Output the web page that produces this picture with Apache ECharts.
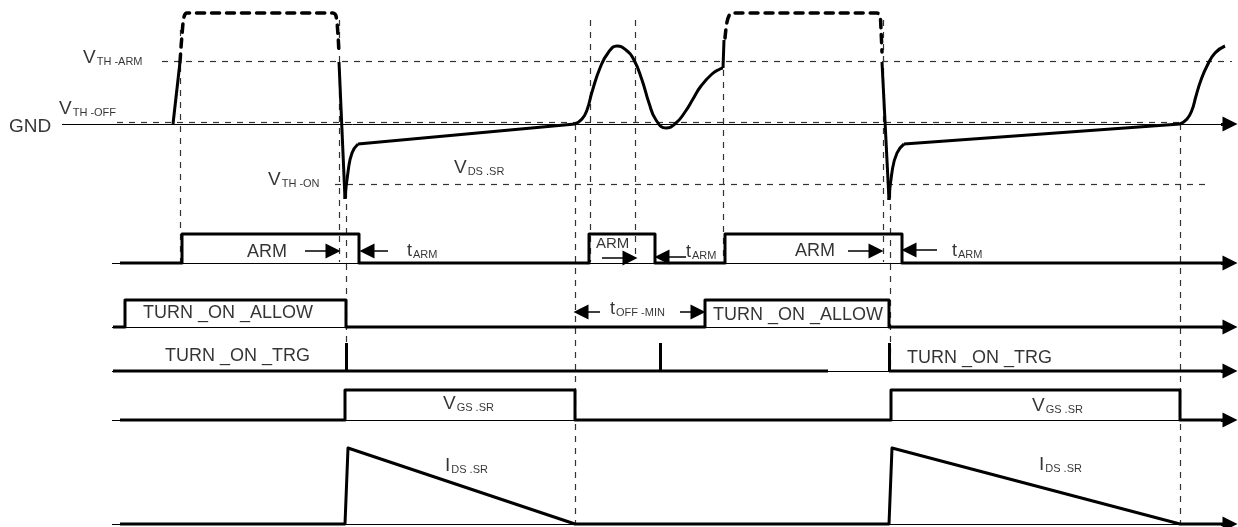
<!DOCTYPE html>
<html>
<head>
<meta charset="utf-8">
<script src="https://cdn.jsdelivr.net/npm/echarts@6/dist/echarts.min.js"></script>
<style>
  html, body { margin: 0; padding: 0; background: #fff; }
  #chart { width: 1238px; height: 527px; }
</style>
</head>
<body>
<div id="chart"></div>
<script>
// V_DS.SR waveform pieces (x, y in picture units)
const vdsRise1 = [[173, 124], [180, 62]];
const vdsDash1 = [[180, 62], [182, 35], [184, 17], [187, 13], [333, 13], [336, 16], [338, 35], [339, 55]];
const vdsFall1 = [[339, 62], [345, 199]];
const vdsRecover1 = [[345, 199], [348, 172], [352, 153], [358, 144]];
const vdsRamp1 = [[358, 144], [575, 124]];
const vdsRing = [[575, 124], [582, 119], [587, 110], [592, 92], [600, 68], [608, 53], [617, 46], [626, 50],
  [634, 60], [642, 80], [649, 103], [656, 120], [666, 128], [676, 123], [685, 112], [693, 99], [701, 86],
  [712, 74], [720, 69], [723, 68]];
const vdsStep = [[723, 68], [724, 40]];
const vdsDash2 = [[725, 38], [727, 22], [730, 14], [734, 13], [877, 13], [880, 16], [881, 30], [882, 52]];
const vdsFall2 = [[882, 62], [889, 200]];
const vdsRecover2 = [[889, 200], [892, 172], [897, 153], [904, 144]];
const vdsRamp2 = [[904, 144], [1180, 124]];
const vdsRise2 = [[1180, 124], [1187, 119], [1192, 110], [1196, 96], [1201, 80], [1207, 66], [1215, 53], [1225, 46]];

// logic signals
const armWave = [[120, 263], [182, 263], [182, 234], [359, 234], [359, 263], [589, 263], [589, 234], [655, 234],
  [655, 263], [725, 263], [725, 234], [902, 234], [902, 263], [1224, 263]];
const allowWave = [[113, 327], [125, 327], [125, 300], [346, 300], [346, 327], [705, 327], [705, 300], [889, 300],
  [889, 327], [1224, 327]];
const trgWaveA = [[113, 371], [828, 371]];
const trgWaveB = [[889, 371], [1224, 371]];
const trgPulses = [[346, 343, 371], [660, 343, 371], [889, 343, 371]];
const vgsWave = [[120, 420], [345, 420], [345, 390], [575, 390], [575, 420], [891, 420], [891, 390], [1180, 390],
  [1180, 420], [1224, 420]];
const idsWave = [[120, 524], [345, 524], [348, 448], [575, 524], [889, 524], [892, 448], [1180, 524], [1224, 524]];

// thin solid baselines [x1, x2, y]
const baselines = [[62, 1224, 124], [112, 1224, 263], [112, 1224, 327], [112, 1224, 371], [112, 1224, 420], [112, 1224, 524]];
// axis arrow tips [x, y]
const axisTips = [[1237, 124], [1237, 263], [1237, 327], [1237, 371], [1237, 420], [1237, 524]];

// thin dashed guides
const hDashes = [[162, 1232, 61], [117, 1180, 122], [335, 1208, 184]];
const vDashes = [[180, 30, 262], [339, 20, 262], [346, 180, 372], [575, 124, 524], [590, 20, 262], [635, 20, 255],
  [723, 70, 262], [883, 20, 262], [890, 180, 372], [1180, 124, 524]];

// timing arrows [fromX, toX, y]
const timeArrows = [[305, 340, 251], [388, 360, 251], [602, 637, 258], [686, 655, 257], [848, 883, 251],
  [937, 902, 250], [600, 574, 312], [680, 705, 312]];

// text labels [x, y, main, subscript, size]
const labels = [
  [83, 58, 'V', 'TH -ARM', 'big'],
  [59, 109, 'V', 'TH -OFF', 'big'],
  [9, 127, 'GND', '', 'big'],
  [268, 180, 'V', 'TH -ON', 'big'],
  [454, 168, 'V', 'DS .SR', 'big'],
  [247, 252, 'ARM', '', 'mid'],
  [407, 251, 't', 'ARM', 'mid'],
  [596, 244, 'ARM', '', 'small'],
  [686, 252, 't', 'ARM', 'mid'],
  [795, 251, 'ARM', '', 'mid'],
  [952, 251, 't', 'ARM', 'mid'],
  [143, 313, 'TURN _ON _ALLOW', '', 'mid'],
  [610, 309, 't', 'OFF -MIN', 'mid'],
  [713, 315, 'TURN _ON _ALLOW', '', 'mid'],
  [165, 356, 'TURN _ON _TRG', '', 'mid'],
  [907, 358, 'TURN _ON _TRG', '', 'mid'],
  [443, 404, 'V', 'GS .SR', 'big'],
  [1032, 406, 'V', 'GS .SR', 'big'],
  [445, 466, 'I', 'DS .SR', 'big'],
  [1039, 465, 'I', 'DS .SR', 'big']
];

const FONT = 'Liberation Sans, Arial, Helvetica, sans-serif';

function wave(data, extra) {
  return Object.assign({
    type: 'line', data: data, symbol: 'none', silent: true, z: 5,
    lineStyle: { color: '#000', width: 3, join: 'round' }
  }, extra || {});
}

function dashedWave(data) {
  return wave(data, { smooth: 0.3, lineStyle: { color: '#000', width: 3.5, type: [8, 7], cap: 'round' } });
}

function segs(list, style, extra) {
  return Object.assign({
    type: 'lines', coordinateSystem: 'cartesian2d', silent: true,
    lineStyle: Object.assign({ color: '#000', opacity: 1 }, style),
    itemStyle: { color: '#000', opacity: 1 },
    data: list
  }, extra || {});
}

const series = [
  wave(vdsRise1), dashedWave(vdsDash1), wave(vdsFall1), wave(vdsRecover1, { smooth: true }), wave(vdsRamp1),
  wave(vdsRing, { smooth: true }), wave(vdsStep), dashedWave(vdsDash2), wave(vdsFall2),
  wave(vdsRecover2, { smooth: true }), wave(vdsRamp2), wave(vdsRise2, { smooth: true }),
  wave(armWave), wave(allowWave), wave(trgWaveA), wave(trgWaveB), wave(vgsWave), wave(idsWave),
  segs(trgPulses.map(p => ({ coords: [[p[0], p[1]], [p[0], p[2]]] })), { width: 3 }, { z: 4 }),
  segs(baselines.map(b => ({ coords: [[b[0], b[2]], [b[1], b[2]]] })), { width: 1 }, { z: 3 }),
  segs(axisTips.map(t => ({ coords: [[t[0] - 16, t[1]], [t[0] - 7, t[1]]] })), { width: 3 },
    { z: 6, symbol: ['none', 'triangle'], symbolSize: [12, 15] }),
  segs(hDashes.map(d => ({ coords: [[d[0], d[2]], [d[1], d[2]]] }))
    .concat(vDashes.map(d => ({ coords: [[d[0], d[1]], [d[0], d[2]]] }))),
    { color: '#333', width: 1.2, type: [6, 6] }, { z: 2 }),
  segs(timeArrows.map(a => ({ coords: [[a[0], a[2]], [a[1] - Math.sign(a[1] - a[0]) * 7, a[2]]] })),
    { width: 1.5 }, { z: 6, symbol: ['none', 'triangle'], symbolSize: [11, 15] }),
  {
    type: 'scatter', silent: true, symbolSize: 0, z: 7,
    data: labels.map(l => ({ value: [l[0], l[1]], main: l[2], sub: l[3], size: l[4] })),
    label: {
      show: true, position: 'right', distance: 0, color: '#000',
      formatter: p => {
        const d = p.data;
        const m = d.size === 'small' ? 'ms' : (d.size === 'mid' ? 'mm' : 'mb');
        return '{' + m + '|' + d.main + '}' + (d.sub ? '{s|' + d.sub + '}' : '');
      },
      rich: {
        mb: { fontFamily: FONT, fontSize: 19, color: '#000' },
        mm: { fontFamily: FONT, fontSize: 18, color: '#000' },
        ms: { fontFamily: FONT, fontSize: 15, color: '#000' },
        s: { fontFamily: FONT, fontSize: 11, color: '#000', verticalAlign: 'bottom', padding: [0, 0, 0, 1] }
      }
    }
  }
];

const chart = echarts.init(document.getElementById('chart'), null, { renderer: 'canvas' });
chart.setOption({
  animation: false,
  backgroundColor: '#fff',
  grid: { left: 0, right: 0, top: 0, bottom: 0 },
  xAxis: { type: 'value', min: 0, max: 1238, show: false },
  yAxis: { type: 'value', min: 0, max: 527, inverse: true, show: false },
  series: series
});
</script>
</body>
</html>
